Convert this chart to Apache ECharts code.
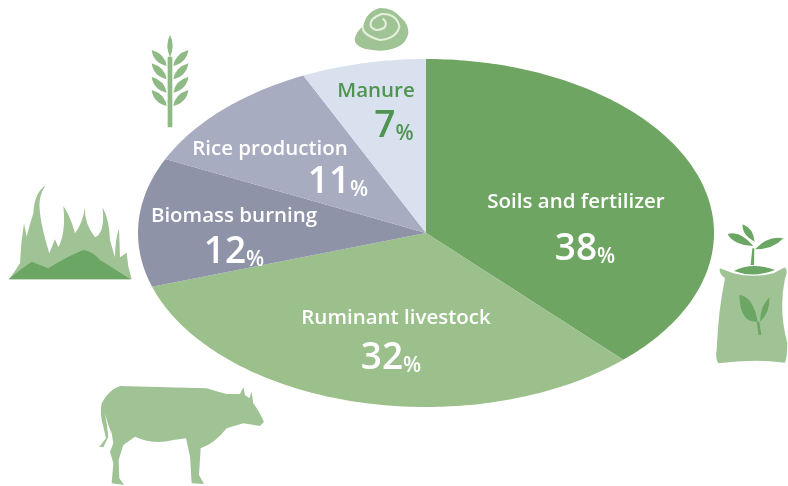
<!DOCTYPE html>
<html>
<head>
    <meta charset="utf-8">
    <style>
        html, body { margin: 0; background: #fff; }
        #chart-container { width: 788px; height: 486px; }
    </style>
</head>
<body>
    <div id="chart-container"></div>

    <script src="https://cdn.jsdelivr.net/npm/echarts@6/dist/echarts.min.js"></script>
    <script>
        // data, clockwise from 12 o'clock
        var categories = ['Soils and fertilizer', 'Ruminant livestock', 'Biomass burning', 'Rice production', 'Manure'];
        var shares = [38, 32, 12, 11, 7];

        var sliceColors = ['#6fa562', '#9cc08b', '#8e93a8', '#a7acc0', '#d9e1ef'];
        var textColors = ['#fff', '#fff', '#fff', '#fff', '#4f9450'];
        // label anchors in pixels: [name x, name y, percent x, percent y]
        var labelSpots = [
            [576, 202, 585, 247],
            [396, 318, 391, 356],
            [234, 216, 234, 250],
            [270, 149, 338, 180],
            [376, 91, 394, 124]
        ];

        var font = '"Open Sans", sans-serif';
        var total = shares.reduce(function (a, b) { return a + b; }, 0);
        var starts = [];
        shares.reduce(function (sum, v, i) { starts[i] = sum; return sum + v; }, 0);

        function renderSlice(params, api) {
            var i = params.dataIndex;
            var a0 = starts[i] / total * Math.PI * 2;
            var a1 = (starts[i] + api.value(0)) / total * Math.PI * 2;
            // the pie is an ellipse, so walk the rim in axis units
            var pts = [api.coord([0, 0])];
            var n = Math.ceil((a1 - a0) * 60);
            for (var k = 0; k <= n; k++) {
                var t = a0 + (a1 - a0) * k / n;
                pts.push(api.coord([Math.sin(t), Math.cos(t)]));
            }
            var spot = labelSpots[i];
            return {
                type: 'group',
                children: [
                    { type: 'polygon', shape: { points: pts }, style: { fill: sliceColors[i] } },
                    {
                        type: 'text', z2: 10,
                        style: {
                            x: spot[0], y: spot[1], text: categories[i], align: 'center', verticalAlign: 'middle',
                            font: '600 20.5px ' + font, fill: textColors[i]
                        }
                    },
                    {
                        type: 'text', z2: 10,
                        style: {
                            x: spot[2], y: spot[3], text: '{n|' + api.value(0) + '}{p|%}', align: 'center', verticalAlign: 'middle',
                            fill: textColors[i],
                            rich: {
                                n: { font: '600 37px ' + font, fill: textColors[i], verticalAlign: 'bottom', lineHeight: 42 },
                                p: { font: '600 21px ' + font, fill: textColors[i], verticalAlign: 'bottom', lineHeight: 37 }
                            }
                        }
                    }
                ]
            };
        }

        var lightGreen = '#a0c396';
        var darkGreen = '#6ca664';
        var wheatGreen = '#8fb985';

        var wheatLeaves = '';
        [150, 190, 230, 270].forEach(function (d) {
            wheatLeaves += 'M455 ' + d + 'Q495 ' + (d + 12) + ' 500 ' + (d + 48) + 'Q460 ' + (d + 38) + ' 455 ' + d + 'Z';
            wheatLeaves += 'M565 ' + d + 'Q525 ' + (d + 12) + ' 520 ' + (d + 48) + 'Q560 ' + (d + 38) + ' 565 ' + d + 'Z';
        });
        var wheat = 'M510 105Q526 135 510 172Q494 135 510 105Z' + wheatLeaves + 'M503 170H517V382H503Z';

        var flames = 'M28 838L60 790Q62 730 72 670L80 710Q90 670 100 640Q102 580 137 556Q112 590 120 640Q126 690 148 760L165 718L175 742Q198 700 190 618Q212 650 225 700Q248 670 255 622Q252 670 285 712Q315 700 308 622Q328 660 330 720Q338 750 345 772Q345 720 357 685L360 772L380 758L385 800L395 838Z';
        var hills = 'M25 838Q65 805 95 785Q120 795 145 805Q200 770 250 750Q280 755 300 780Q340 805 392 838Z';

        var manure = 'M300 24Q340 24 362 52Q386 72 385 100Q375 150 300 152Q225 150 224 118Q228 95 250 78Q258 35 300 24Z';
        var swirl = 'M248 78Q245 105 300 120Q350 115 358 80Q350 40 305 42Q268 55 272 78Q285 98 312 84Q325 68 308 56';

        var bag = 'M90 175L130 190Q190 205 250 190L285 172Q295 185 285 205Q265 300 292 400Q292 440 285 458Q190 445 85 460Q75 445 80 420Q85 300 105 205Q85 190 90 175Z';
        var sprout = 'M132 183Q185 155 255 180Q190 205 132 183Z' +
            'M182 165L187 115L193 115L192 165Z' +
            'M190 108Q150 60 113 72Q130 105 190 108Z' +
            'M194 95Q190 55 158 43Q155 75 194 95Z' +
            'M195 118Q235 75 280 85Q250 118 195 118Z' +
            'M148 255Q190 260 203 335Q150 340 148 255Z' +
            'M210 335Q210 290 238 262Q240 310 210 335Z' +
            'M200 335L208 335L214 375L206 375Z';

        var cow = 'M552 155Q535 120 520 100L515 65L508 85L495 75L490 52L480 72L440 72Q410 65 380 55L120 48Q85 60 65 100Q58 130 70 170L78 205L58 230L70 232L85 200L80 160L75 130Q85 170 95 190L100 220L90 245L100 280L95 340L132 345L118 325L116 270L130 225L165 200Q220 225 280 210L318 205L330 260L335 340L372 342L357 315L362 235Q405 220 440 175L490 160L540 168Z';

        // icons were traced at 3x, placed with scale 1/3: [path, x, y, style]
        var icons = [
            [wheat, 0, 0, { fill: wheatGreen }],
            [flames, 0, 0, { fill: lightGreen }],
            [hills, 0, 0, { fill: darkGreen }],
            [manure, 280, 0, { fill: lightGreen }],
            [swirl, 280, 0, { fill: 'none', stroke: '#e4efdc', lineWidth: 6 }],
            [bag, 690, 210, { fill: lightGreen }],
            [sprout, 690, 210, { fill: darkGreen }],
            [cow, 80, 370, { fill: lightGreen }]
        ];

        function renderIcon(params) {
            var ic = icons[params.dataIndex];
            return {
                type: 'path',
                x: ic[1], y: ic[2], scaleX: 1 / 3, scaleY: 1 / 3,
                shape: { pathData: ic[0] },
                style: ic[3]
            };
        }

        var chartDom = document.getElementById('chart-container');
        var myChart = echarts.init(chartDom);
        var option = {
            animation: false,
            backgroundColor: '#fff',
            grid: { left: 138, top: 59, width: 576, height: 348 },
            xAxis: { type: 'value', min: -1, max: 1, show: false },
            yAxis: { type: 'value', min: -1, max: 1, show: false },
            series: [
                {
                    type: 'custom',
                    coordinateSystem: 'cartesian2d',
                    silent: true,
                    clip: false,
                    renderItem: renderSlice,
                    encode: { x: 0 },
                    data: shares.map(function (v) { return [v]; })
                },
                {
                    type: 'custom',
                    coordinateSystem: 'none',
                    silent: true,
                    renderItem: renderIcon,
                    data: icons.map(function (ic, i) { return [i]; })
                }
            ]
        };
        myChart.setOption(option);
    </script>
</body>
</html>
